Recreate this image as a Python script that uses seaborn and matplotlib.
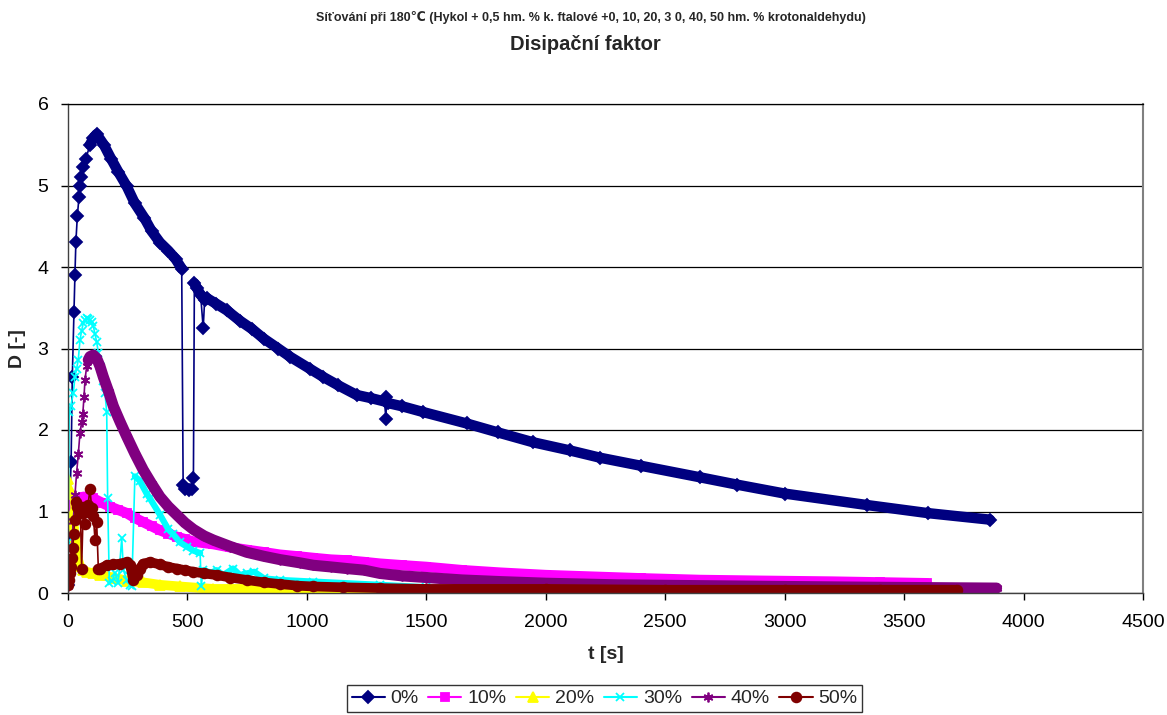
"""
Disipační faktor vs. time for crosslinking at 180 °C, six crotonaldehyde contents.
Excel-style line chart redrawn with seaborn.
"""

import pandas as pd
import seaborn as sns
import matplotlib.pyplot as plt
from matplotlib.lines import Line2D

# t [s], D [-], band segment (-1 = sparse point, drawn only with the thin line)
T_0 = [0, 2, 13, 18, 25, 29, 33, 39, 46, 50, 54, 64, 75, 92, 106, 120, 150, 180, 210, 246,
       280, 320, 350, 385, 420, 450, 476, 482, 490, 505, 518, 525, 529, 540, 555, 566, 572,
       580, 620, 664, 720, 770, 820, 880, 929, 1013, 1069, 1130, 1208, 1270, 1325, 1331, 1333,
       1340, 1400, 1487, 1669, 1800, 1946, 2100, 2227, 2400, 2645, 2800, 3000, 3343, 3600, 3859]
D_0 = [0.10, 0.67, 1.61, 2.65, 3.45, 3.90, 4.31, 4.62, 4.86, 4.99, 5.11, 5.23, 5.33, 5.50, 5.58,
       5.63, 5.50, 5.33, 5.17, 4.99, 4.78, 4.60, 4.44, 4.30, 4.20, 4.10, 3.98, 1.32, 1.27, 1.26,
       1.28, 1.41, 3.80, 3.74, 3.66, 3.25, 3.60, 3.62, 3.55, 3.47, 3.34, 3.24, 3.12, 3.00, 2.90,
       2.75, 2.65, 2.55, 2.43, 2.39, 2.35, 2.13, 2.41, 2.33, 2.29, 2.22, 2.08, 1.97, 1.85, 1.75,
       1.66, 1.56, 1.42, 1.33, 1.22, 1.08, 0.98, 0.90]
S_0 = [-1] * 13 + [0] * 14 + [-1] * 5 + [1] * 3 + [-1] + [1] * 15 + [-1, -1] + [1] * 15

T_10 = [0, 8, 22, 45, 64, 85, 106, 140, 176, 210, 246, 280, 315, 350, 385, 420, 455, 490, 525,
        608, 680, 748, 820, 887, 960, 1027, 1100, 1167, 1240, 1306, 1400, 1500, 1650, 1808, 2000,
        2200, 2400, 2645, 2900, 3200, 3400, 3594]
D_10 = [0.98, 1.05, 1.12, 1.16, 1.18, 1.18, 1.16, 1.11, 1.06, 1.02, 0.98, 0.92, 0.87, 0.82, 0.77,
        0.73, 0.69, 0.66, 0.63, 0.60, 0.56, 0.53, 0.50, 0.47, 0.45, 0.43, 0.41, 0.40, 0.38, 0.36,
        0.34, 0.32, 0.28, 0.25, 0.22, 0.20, 0.18, 0.16, 0.15, 0.14, 0.13, 0.12]
S_10 = [0] * len(T_10)

T_20 = [0, 5, 10, 15, 22, 29, 36, 43, 50, 64, 78, 106, 134, 190, 246, 315, 385, 469, 608, 750,
        887, 1100, 1400, 1700, 2060]
D_20 = [1.40, 1.30, 1.22, 0.98, 0.86, 0.69, 0.50, 0.40, 0.33, 0.28, 0.26, 0.24, 0.22, 0.19, 0.15,
        0.13, 0.10, 0.08, 0.05, 0.05, 0.04, 0.03, 0.025, 0.02, 0.01]
S_20 = [-1] * 4 + [0] * 21

T_30 = [0, 5, 12, 22, 29, 36, 43, 50, 57, 64, 71, 78, 85, 92, 99, 106, 113, 120, 127, 134, 145,
        155, 162, 166, 173, 185, 197, 210, 225, 232, 246, 260, 267, 280, 300, 329, 343, 385, 420,
        441, 469, 497, 525, 553, 558, 565, 600, 622, 650, 691, 720, 748, 780, 820, 887, 1027,
        1306, 1500, 1800, 2050, 2500, 3370]
D_30 = [0.62, 2.22, 2.30, 2.45, 2.65, 2.75, 2.86, 3.10, 3.22, 3.31, 3.35, 3.37, 3.36, 3.35, 3.32,
        3.27, 3.18, 3.08, 2.95, 2.78, 2.60, 2.45, 2.22, 1.16, 0.12, 0.15, 0.25, 0.12, 0.67, 0.28,
        0.16, 0.10, 0.08, 1.43, 1.38, 1.22, 1.16, 0.96, 0.78, 0.72, 0.62, 0.57, 0.52, 0.49, 0.08,
        0.28, 0.25, 0.28, 0.22, 0.30, 0.22, 0.24, 0.26, 0.18, 0.16, 0.14, 0.10, 0.07, 0.04, 0.02,
        0.01, 0.01]
S_30 = [-1] * 33 + [0] * 11 + [-1] + [1] * 17

T_40 = [0, 8, 15, 22, 29, 36, 43, 50, 57, 62, 67, 71, 78, 85, 92, 106, 120, 134, 148, 170, 190,
        218, 246, 280, 315, 350, 385, 420, 455, 490, 525, 570, 608, 680, 748, 820, 887, 971, 1027,
        1100, 1167, 1240, 1306, 1400, 1500, 1650, 1808, 2000, 2300, 2645, 3000, 3400, 3887]
D_40 = [0.08, 0.25, 0.55, 0.88, 1.20, 1.47, 1.70, 1.96, 2.10, 2.20, 2.41, 2.61, 2.78, 2.86, 2.90,
        2.92, 2.88, 2.78, 2.65, 2.47, 2.29, 2.10, 1.92, 1.71, 1.51, 1.34, 1.18, 1.06, 0.96, 0.86,
        0.78, 0.70, 0.65, 0.57, 0.50, 0.45, 0.41, 0.37, 0.34, 0.32, 0.30, 0.28, 0.24, 0.21, 0.19,
        0.16, 0.14, 0.12, 0.10, 0.09, 0.08, 0.07, 0.06]
S_40 = [-1] * 13 + [0] * 40

T_50 = [0, 4, 8, 12, 16, 20, 24, 28, 33, 38, 45, 52, 57, 64, 71, 78, 84, 92, 99, 106, 113, 120,
        127, 134, 162, 190, 218, 246, 260, 273, 287, 300, 315, 343, 385, 420, 455, 490, 525, 570,
        622, 680, 748, 820, 887, 960, 1027, 1150, 1306, 1500, 2000, 2500, 3000, 3400, 3720]
D_50 = [0.10, 0.16, 0.24, 0.32, 0.43, 0.55, 0.73, 0.90, 1.12, 1.05, 1.02, 0.98, 0.30, 1.06, 0.85,
        1.00, 1.08, 1.28, 1.04, 0.95, 0.65, 0.87, 0.30, 0.30, 0.34, 0.35, 0.36, 0.38, 0.34, 0.16,
        0.22, 0.30, 0.36, 0.38, 0.35, 0.32, 0.30, 0.28, 0.26, 0.24, 0.22, 0.19, 0.16, 0.13, 0.11,
        0.09, 0.08, 0.07, 0.06, 0.05, 0.05, 0.04, 0.04, 0.04, 0.04]
S_50 = [-1] * 23 + [0] * 32

LABELS = ["0%", "10%", "20%", "30%", "40%", "50%"]
COLORS = ["#000080", "#FF00FF", "#FFFF00", "#00FFFF", "#800080", "#800000"]
MARKERS = ["D", "s", "^", "x", (6, 2, 0), "o"]
MSIZES = [6, 6, 7, 6, 7, 7]
BAND_LW = [7.5, 7.5, 7, 4.5, 8, 7]

series = [(T_0, D_0, S_0), (T_10, D_10, S_10), (T_20, D_20, S_20),
          (T_30, D_30, S_30), (T_40, D_40, S_40), (T_50, D_50, S_50)]

sns.set_theme(style="ticks")
plt.rcParams["font.family"] = ["Liberation Sans", "DejaVu Sans"]

fig = plt.figure(figsize=(11.67, 7.15), dpi=100)
ax = fig.add_axes([68 / 1167, 1 - 593 / 715, (1143 - 68) / 1167, (593 - 104) / 715])

for (t, d, s), lab, col, mk, ms, blw in zip(series, LABELS, COLORS, MARKERS, MSIZES, BAND_LW):
    df = pd.DataFrame({"t": t, "D": d, "seg": s})
    # thin connecting line with markers at every reading
    sns.lineplot(data=df, x="t", y="D", sort=False, estimator=None, color=col, lw=1.2,
                 marker=mk, markersize=ms, markeredgecolor=col, markerfacecolor=col,
                 markeredgewidth=1.3, legend=False, ax=ax)
    # dense stretches of readings look like a thick band in the original
    band = df[df["seg"] >= 0]
    sns.lineplot(data=band, x="t", y="D", units="seg", sort=False, estimator=None, color=col,
                 lw=blw, solid_capstyle="round", solid_joinstyle="round", legend=False, ax=ax)

ax.set_xlim(0, 4500)
ax.set_ylim(0, 6)
ax.set_xticks(range(0, 4501, 500))
ax.set_yticks(range(0, 7))
ax.yaxis.grid(True, color="black", lw=0.9)
ax.set_axisbelow(True)
ax.tick_params(direction="out", length=5, width=1, colors="black", labelsize=14)
ax.tick_params(axis="x", pad=10)
ax.tick_params(axis="y", pad=9)
for side in ["left", "bottom"]:
    ax.spines[side].set_color("#404040")
    ax.spines[side].set_linewidth(1)
ax.spines["top"].set_color("black")
ax.spines["top"].set_linewidth(0.9)
ax.spines["right"].set_color("#808080")
ax.spines["right"].set_linewidth(1.5)

ax.set_xlabel("t [s]", fontsize=14, fontweight="bold", labelpad=11)
ax.set_ylabel("D [-]", fontsize=14, fontweight="bold", labelpad=8)

fig.text(0.506, 1 - 18 / 715,
         "Síťování při 180℃ (Hykol + 0,5 hm. % k. ftalové +0, 10, 20, 3 0, 40, 50 hm. % krotonaldehydu)",
         ha="center", va="center", fontsize=9, fontweight="bold")
fig.text(0.502, 1 - 44 / 715, "Disipační faktor", ha="center", va="center",
         fontsize=14.5, fontweight="bold")

handles = [Line2D([], [], color=c, lw=1.5, marker=m, markersize=ms, markeredgecolor=c,
                  markerfacecolor=c, markeredgewidth=1.3)
           for c, m, ms in zip(COLORS, MARKERS, MSIZES)]
leg = fig.legend(handles, LABELS, loc="upper center", bbox_to_anchor=(0.518, 1 - 685 / 715),
                 ncol=6, fontsize=14, frameon=True, fancybox=False, handlelength=1.7,
                 handletextpad=0.3, columnspacing=0.5, borderpad=0.25, borderaxespad=0)
leg.get_frame().set_edgecolor("black")
leg.get_frame().set_linewidth(1)

fig.savefig("out.png", dpi=100)
